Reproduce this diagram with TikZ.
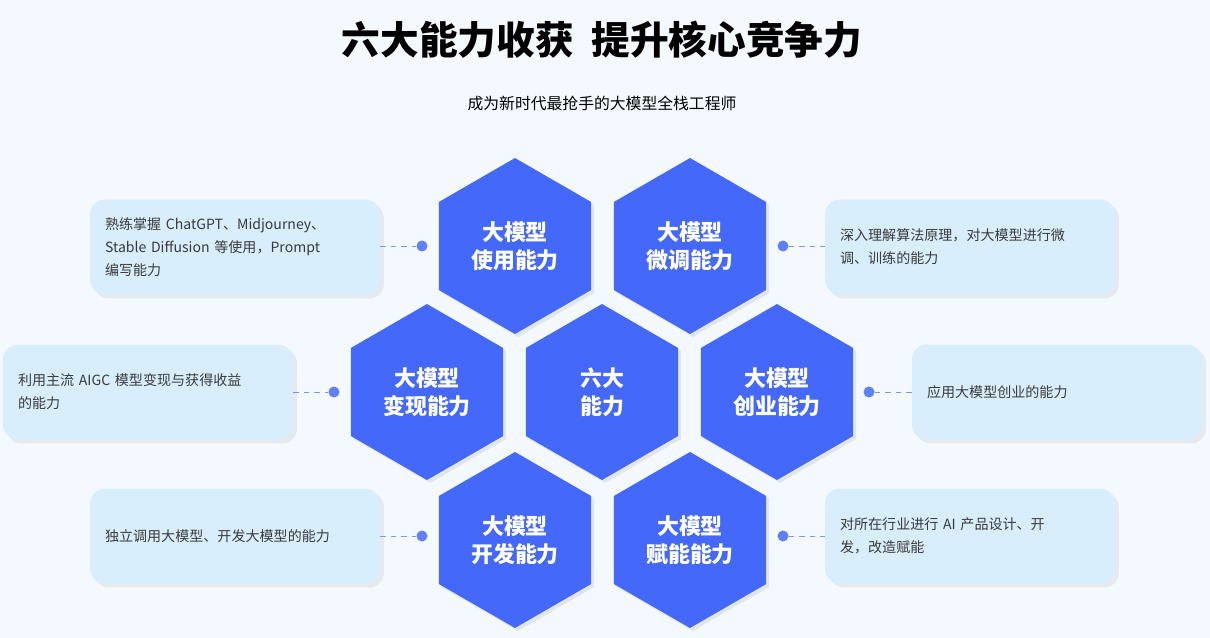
\documentclass[tikz,border=0pt]{standalone}
\usepackage{fontspec}
\setmainfont{Noto Sans CJK SC}
\usetikzlibrary{positioning,shapes.geometric,shadows}
\definecolor{hexblue}{HTML}{4468FA}
\definecolor{boxblue}{HTML}{D8EEFC}
\definecolor{bgblue}{HTML}{F3F9FE}
\definecolor{txtgray}{HTML}{3A3A3A}
\tikzset{
    hexcell/.style={regular polygon, regular polygon sides=6, shape border rotate=30,
        fill=hexblue, minimum size=3.52cm, inner sep=0pt, text=white,
        font=\fontsize{12.5}{16}\selectfont\bfseries, align=center,
        drop shadow={opacity=0.15, shadow xshift=0.06cm, shadow yshift=-0.06cm}},
    infobox/.style={fill=boxblue, rounded corners=0.3cm, minimum width=5.8cm,
        minimum height=1.9cm, text width=5.2cm, align=left, text=txtgray,
        font=\fontsize{8}{13}\selectfont,
        drop shadow={opacity=0.12, shadow xshift=0.08cm, shadow yshift=-0.08cm}},
    linkline/.style={draw=hexblue!70, dashed, thin},
    dotend/.style={circle, fill=hexblue!85, minimum size=0.22cm, inner sep=0pt}
}
\begin{document}
\begin{tikzpicture}[x=0.02cm, y=-0.02cm]
    \fill[bgblue] (0,0) rectangle (1210,638);
    \useasboundingbox (0,0) rectangle (1210,638);
    % titles
    \node[font=\fontsize{22}{26}\selectfont\bfseries] (Title) at (602,40) {六大能力收获\ \ 提升核心竞争力};
    \node[font=\fontsize{9}{12}\selectfont] (Subtitle) at (602,103) {成为新时代最抢手的大模型全栈工程师};
    % hexagons
    \node[hexcell] (HexUse) at (515,246) {大模型\\使用能力};
    \node[hexcell] (HexTune) at (690,246) {大模型\\微调能力};
    \node[hexcell] (HexMoney) at (427,392) {大模型\\变现能力};
    \node[hexcell] (HexCore) at (602,392) {六大\\能力};
    \node[hexcell] (HexStart) at (777,392) {大模型\\创业能力};
    \node[hexcell] (HexDev) at (515,540) {大模型\\开发能力};
    \node[hexcell] (HexEmp) at (690,540) {大模型\\赋能能力};
    % boxes
    \node[infobox] (BoxUse) at (235,247) {熟练掌握 ChatGPT、Midjourney、\\Stable Diffusion 等使用，Prompt\\编写能力};
    \node[infobox] (BoxTune) at (970,247) {深入理解算法原理，对大模型进行微\\调、训练的能力};
    \node[infobox] (BoxMoney) at (148,392) {利用主流 AIGC 模型变现与获得收益\\的能力};
    \node[infobox] (BoxStart) at (1057,392) {应用大模型创业的能力};
    \node[infobox] (BoxDev) at (235,536) {独立调用大模型、开发大模型的能力};
    \node[infobox] (BoxEmp) at (970,536) {对所在行业进行 AI 产品设计、开\\发，改造赋能};
    % connectors
    \node[dotend] (DotUse) at (422,246) {};
    \node[dotend] (DotTune) at (783,246) {};
    \node[dotend] (DotMoney) at (334,392) {};
    \node[dotend] (DotStart) at (869,392) {};
    \node[dotend] (DotDev) at (422,536) {};
    \node[dotend] (DotEmp) at (783,536) {};
    \draw[linkline] (BoxUse.east |- DotUse) -- (DotUse);
    \draw[linkline] (DotTune) -- (BoxTune.west |- DotTune);
    \draw[linkline] (BoxMoney.east |- DotMoney) -- (DotMoney);
    \draw[linkline] (DotStart) -- (BoxStart.west |- DotStart);
    \draw[linkline] (BoxDev.east |- DotDev) -- (DotDev);
    \draw[linkline] (DotEmp) -- (BoxEmp.west |- DotEmp);
\end{tikzpicture}
\end{document}
